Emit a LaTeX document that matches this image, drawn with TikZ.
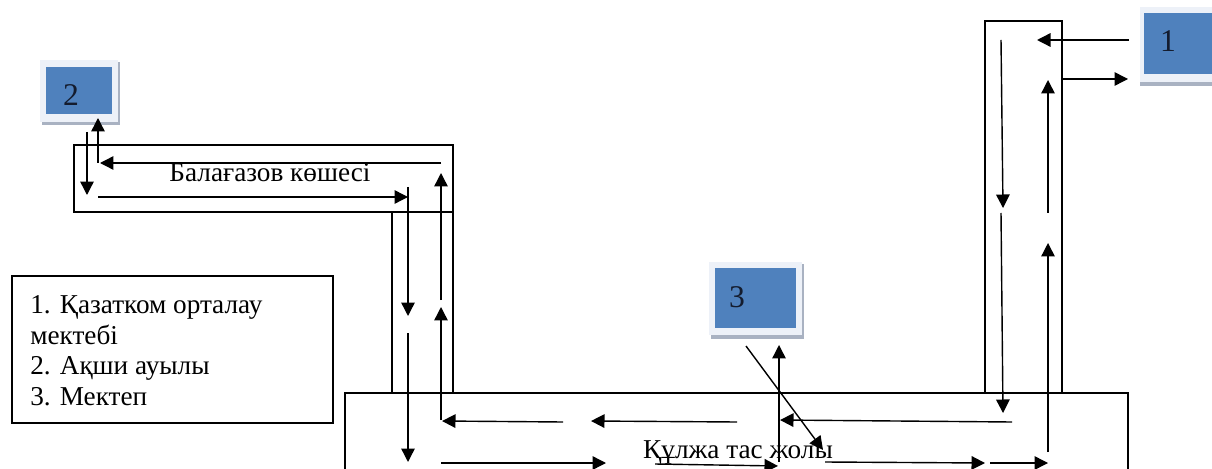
\documentclass[tikz,border=0pt]{standalone}
\usepackage{fontspec}
\usepackage{xcolor}
\usepackage{tikz}
\usetikzlibrary{arrows.meta}
\setmainfont{Liberation Serif}
\definecolor{stopblue}{HTML}{4F81BD}
\definecolor{stoppale}{HTML}{EDF1F8}
\definecolor{stopgray}{HTML}{A9B2C2}
\definecolor{stopink}{HTML}{141C2E}
\begin{document}
\begin{tikzpicture}[x=0.02cm,y=-0.02cm]
	\useasboundingbox (0,0) rectangle (1212,469);
	% roads
	\begin{scope}[every node/.style = {rectangle, draw=black, line width=0.75pt, inner sep=0pt, outer sep=0pt}]
		\node (Balagazov) at (263.5,178.5) [minimum width=7.58cm, minimum height=1.34cm] {};
		\node (BalagazovDown) at (422.5,302.5) [minimum width=1.22cm, minimum height=3.62cm] {};
		\node (SchoolRoad) at (1023.5,207) [minimum width=1.54cm, minimum height=7.44cm] {};
		\node (Legend) at (172.5,349.5) [minimum width=6.42cm, minimum height=2.94cm] {};
	\end{scope}
	\coordinate (KL) at (345,469);
	\coordinate (KA) at (345,393);
	\coordinate (KB) at (1128,393);
	\coordinate (KR) at (1128,469);
	\draw [line width=0.75pt] (KL) -- (KA) -- (KB) -- (KR);
	% stops
	\begin{scope}[every node/.style = {rectangle, inner sep=0pt, outer sep=0pt}]
		\node (S2) at (81,93.5) [fill=stopgray, minimum width=1.56cm, minimum height=1.26cm] {};
		\node (P2) at (79,91) [fill=stoppale, minimum width=1.56cm, minimum height=1.24cm] {};
		\node (B2) at (79,90.5) [fill=stopblue, minimum width=1.32cm, minimum height=0.94cm] {};
		\node (S3) at (757.5,301.5) [fill=stopgray, minimum width=1.86cm, minimum height=1.5cm] {};
		\node (P3) at (755.5,298.5) [fill=stoppale, minimum width=1.86cm, minimum height=1.46cm] {};
		\node (B3) at (755.5,298) [fill=stopblue, minimum width=1.62cm, minimum height=1.2cm] {};
		\node (S1) at (1176,47.5) [fill=stopgray, minimum width=1.44cm, minimum height=1.54cm] {};
		\node (P1) at (1176,44.5) [fill=stoppale, minimum width=1.44cm, minimum height=1.5cm] {};
		\node (B1) at (1178,43.5) [fill=stopblue, minimum width=1.36cm, minimum height=1.22cm] {};
	\end{scope}
	% texts
	\begin{scope}[every node/.style = {inner sep=0pt, font=\fontsize{18}{20}\selectfont, text=stopink}]
		\node (N2) at (71,95) {2};
		\node (N3) at (737,297) {3};
		\node (N1) at (1168,41) {1};
	\end{scope}
	\begin{scope}[every node/.style = {inner sep=0pt, font=\fontsize{15.5}{18}\selectfont, text=black}]
		\node (BalagazovName) at (270,173) {Балағазов көшесі};
		\node (KulzhaName) at (738,452) {Құлжа тас жолы};
		\node (L1) [anchor=base west] at (30,313) {1. Қазатком орталау};
		\node (L2) [anchor=base west] at (30,344) {мектебі};
		\node (L3) [anchor=base west] at (30,374) {2. Ақши ауылы};
		\node (L4) [anchor=base west] at (30,405) {3. Мектеп};
	\end{scope}
	% arrow ends
	\coordinate (a1) at (87,132);     \coordinate (a2) at (87,195);
	\coordinate (b1) at (98,163);     \coordinate (b2) at (98,118);
	\coordinate (c1) at (441,163);    \coordinate (c2) at (100,163);
	\coordinate (d1) at (98,197);     \coordinate (d2) at (408,197);
	\coordinate (e1) at (441,300);    \coordinate (e2) at (441,173);
	\coordinate (f1) at (408,187);    \coordinate (f2) at (408,316);
	\coordinate (g1) at (408,333);    \coordinate (g2) at (408,462);
	\coordinate (h1) at (441,420);    \coordinate (h2) at (441,307);
	\coordinate (i1) at (563,422);    \coordinate (i2) at (442,421);
	\coordinate (j1) at (737,422);    \coordinate (j2) at (591,421);
	\coordinate (k1) at (441,463);    \coordinate (k2) at (606,463);
	\coordinate (l1) at (655,464);    \coordinate (l2) at (778,466);
	\coordinate (m1) at (779,462);    \coordinate (m2) at (779,345);
	\coordinate (n1) at (746,346);    \coordinate (n2) at (823,450);
	\coordinate (o1) at (1012,422);   \coordinate (o2) at (780,420);
	\coordinate (p1) at (825,462);    \coordinate (p2) at (985,463);
	\coordinate (q1) at (990,463);    \coordinate (q2) at (1048,463);
	\coordinate (r1) at (1048,452);   \coordinate (r2) at (1048,243);
	\coordinate (s1) at (1048,213);   \coordinate (s2) at (1048,80);
	\coordinate (t1) at (1001,40);    \coordinate (t2) at (1003,208);
	\coordinate (u1) at (1001,213);   \coordinate (u2) at (1003,413);
	\coordinate (v1) at (1129,40);    \coordinate (v2) at (1037,40);
	\coordinate (w1) at (1062,79);    \coordinate (w2) at (1128,79);
	% arrows
	\begin{scope}[>={Triangle[black, width=0.27cm, length=0.27cm]},
			every edge/.style={draw=black, line width=0.8pt}]
		\path [->] (a1) edge (a2);
		\path [->] (b1) edge (b2);
		\path [->] (c1) edge (c2);
		\path [->] (d1) edge (d2);
		\path [->] (e1) edge (e2);
		\path [->] (f1) edge (f2);
		\path [->] (g1) edge (g2);
		\path [->] (h1) edge (h2);
		\path [->] (i1) edge (i2);
		\path [->] (j1) edge (j2);
		\path [->] (k1) edge (k2);
		\path [->] (l1) edge (l2);
		\path [->] (m1) edge (m2);
		\path [->] (n1) edge (n2);
		\path [->] (o1) edge (o2);
		\path [->] (p1) edge (p2);
		\path [->] (q1) edge (q2);
		\path [->] (r1) edge (r2);
		\path [->] (s1) edge (s2);
		\path [->] (t1) edge (t2);
		\path [->] (u1) edge (u2);
		\path [->] (v1) edge (v2);
		\path [->] (w1) edge (w2);
	\end{scope}
\end{tikzpicture}
\end{document}
